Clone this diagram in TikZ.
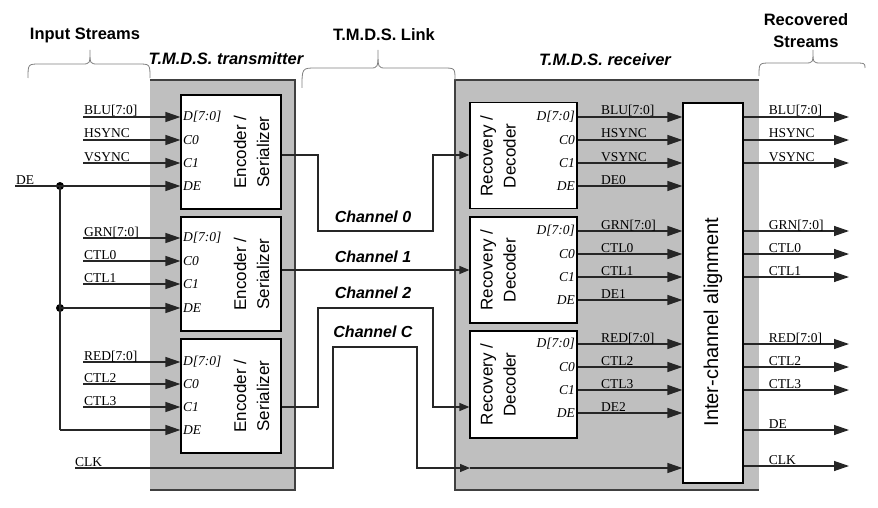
\documentclass[tikz,border=0pt]{standalone}
\usepackage{fontspec}
\setmainfont{Liberation Serif}
\setsansfont{Liberation Sans}
\usetikzlibrary{arrows.meta,calc}
\begin{document}
\begin{tikzpicture}[x=1pt,y=-1pt,
  wire/.style={line width=1.3pt, black!85},
  sig/.style={wire,-{Triangle[length=15pt,width=10pt]}},
  chan/.style={wire,-{Triangle[length=10pt,width=8pt]}},
  blk/.style={draw, line width=1.2pt, fill=white, inner sep=0},
  sgl/.style={font=\fontsize{13.5}{14}\selectfont, inner sep=0, anchor=base west},
  port/.style={font=\itshape\fontsize{13.5}{14}\selectfont, inner sep=0},
  blkt/.style={font=\sffamily\fontsize{17}{23}\selectfont, rotate=90, align=center, inner sep=0},
  ttl/.style={font=\sffamily\bfseries\fontsize{16.5}{22}\selectfont, inner sep=0, align=center},
  chl/.style={font=\sffamily\bfseries\itshape\fontsize{16}{18}\selectfont, inner sep=0},
  brc/.style={line width=0.8pt, black!50},
  shade/.style={fill=black!25, inner sep=0, draw=none},
  rim/.style={line width=1.8pt, black!75},
  jdot/.style={circle, fill=black, inner sep=0, minimum size=8pt}
]
\useasboundingbox (0,0) rectangle (878,508);

% gray housings
\node[shade, minimum width=145pt, minimum height=410pt] (tx) at (222.5,285) {};
\node[shade, minimum width=304pt, minimum height=410pt] (rx) at (607,285) {};
\draw[rim] (tx.north west) -- (tx.north east) -- (tx.south east) -- (tx.south west);
\draw[rim] (rx.north east) -- (rx.north west) -- (rx.south west) -- (rx.south east);

% blocks
\node[blk, minimum width=100pt, minimum height=114pt] (enc1) at (231,152) {};
\node[blk, minimum width=100pt, minimum height=114pt] (enc2) at (231,274) {};
\node[blk, minimum width=100pt, minimum height=114pt] (enc3) at (231,396) {};
\node[blk, minimum width=107pt, minimum height=106pt] (dec1) at (523.5,155.5) {};
\node[blk, minimum width=107pt, minimum height=106pt] (dec2) at (523.5,270) {};
\node[blk, minimum width=107pt, minimum height=107pt] (dec3) at (523.5,384.5) {};
\node[blk, minimum width=60pt, minimum height=380pt] (align) at (713,293) {};

\node[blkt] (e1t) at (251.5,152) {Encoder /\\Serializer};
\node[blkt] (e2t) at (251.5,274) {Encoder /\\Serializer};
\node[blkt] (e3t) at (251.5,396) {Encoder /\\Serializer};
\node[blkt] (d1t) at (498,156) {Recovery /\\Decoder};
\node[blkt] (d2t) at (498,270) {Recovery /\\Decoder};
\node[blkt] (d3t) at (498,384.5) {Recovery /\\Decoder};
\node[blkt, font=\sffamily\fontsize{20}{24}\selectfont] (alt) at (713,322) {Inter-channel alignment};

% titles
\node[ttl] (t1) at (85,35) {Input Streams};
\node[ttl, font=\sffamily\bfseries\itshape\fontsize{16.5}{20}\selectfont] (t2) at (226,59) {T.M.D.S. transmitter};
\node[ttl] (t3) at (384,35) {T.M.D.S. Link};
\node[ttl, font=\sffamily\bfseries\itshape\fontsize{16.5}{20}\selectfont] (t4) at (605,60) {T.M.D.S. receiver};
\node[ttl] (t5) at (806,31) {Recovered\\Streams};

% braces
\draw[brc] (28,78) .. controls (28,64) .. (40,64) -- (82,64) .. controls (90,64) .. (90,50)
  .. controls (90,64) .. (98,64) -- (138,64) .. controls (150,64) .. (150,78);
\draw[brc] (302,88) .. controls (302,68) .. (316,68) -- (370,68) .. controls (378,68) .. (378,50)
  .. controls (378,68) .. (386,68) -- (443,68) .. controls (455,68) .. (455,80);
\draw[brc] (759,76) .. controls (759,63) .. (771,63) -- (805,63) .. controls (813,63) .. (813,50)
  .. controls (813,63) .. (821,63) -- (853,63) .. controls (865,63) .. (865,68);

% transmitter inputs
\foreach \y/\s/\e in {117/{BLU[7:0]}/enc1, 140/HSYNC/enc1, 163/VSYNC/enc1,
                      238/{GRN[7:0]}/enc2, 261/CTL0/enc2, 284/CTL1/enc2,
                      362/{RED[7:0]}/enc3, 384/CTL2/enc3, 407/CTL3/enc3} {
  \coordinate (s) at (83,\y);
  \draw[sig] (s) -- (s -| \e.west);
  \node[sgl] at ($(s)+(1,-2)$) {\s};
}
% encoder port labels
\foreach \a/\b/\c/\d in {117/140/163/186, 238/261/284/308, 362/384/407/430} {
  \node[port, anchor=west] at (183,\a) {D[7:0]};
  \node[port, anchor=west] at (183,\b) {C0};
  \node[port, anchor=west] at (183,\c) {C1};
  \node[port, anchor=west] at (183,\d) {DE};
}

% DE distribution
\coordinate (dein) at (15,186);
\node[jdot] (j1) at (60,186) {};
\node[jdot] (j2) at (60,308) {};
\coordinate (jc) at (60,430);
\draw[sig] (dein) -- (dein -| enc1.west);
\draw[wire] (j1.center) -- (jc);
\draw[sig] (j2.center) -- (j2 -| enc2.west);
\draw[sig] (jc) -- (jc -| enc3.west);
\node[sgl] at ($(dein)+(1,-2)$) {DE};

% links
\draw[chan] (enc1.east |- 0,155) -| (318,231) -| (433,155) -- (dec1.west |- 0,155);
\draw[chan] (enc2.east |- 0,270) -- (dec2.west |- 0,270);
\draw[chan] (enc3.east |- 0,407) -| (318,308) -| (433,407) -- (dec3.west |- 0,407);
\coordinate (clk) at (75,468);
\coordinate (clkm) at (470,468);
\draw[chan] (clk) -| (333,347) -| (417,468) -- (clkm);
\draw[sig] (clkm) -- (clkm -| align.west);
\node[sgl] at ($(clk)+(0,-2)$) {CLK};

\node[chl] (c0) at (373,217) {Channel 0};
\node[chl] (c1) at (373,257) {Channel 1};
\node[chl] (c2) at (373,293) {Channel 2};
\node[chl] (cc) at (373,332) {Channel C};

% decoder outputs
\foreach \y/\s/\e in {117/{BLU[7:0]}/dec1, 140/HSYNC/dec1, 163/VSYNC/dec1, 186/DE0/dec1,
                      231/{GRN[7:0]}/dec2, 254/CTL0/dec2, 277/CTL1/dec2, 300/DE1/dec2,
                      344/{RED[7:0]}/dec3, 367/CTL2/dec3, 390/CTL3/dec3, 413/DE2/dec3} {
  \coordinate (r) at (601,\y);
  \draw[sig] (r -| \e.east) -- (r -| align.west);
  \node[sgl] at ($(r)+(0,-2)$) {\s};
}
\foreach \a/\b/\c/\d in {117/140/163/186, 231/254/277/300, 344/367/390/413} {
  \node[port, anchor=east] at (575,\a) {D[7:0]};
  \node[port, anchor=east] at (575,\b) {C0};
  \node[port, anchor=east] at (575,\c) {C1};
  \node[port, anchor=east] at (575,\d) {DE};
}

% recovered outputs
\foreach \y/\s in {117/{BLU[7:0]}, 140/HSYNC, 163/VSYNC, 231/{GRN[7:0]}, 254/CTL0, 277/CTL1,
                   344/{RED[7:0]}, 367/CTL2, 390/CTL3, 430/DE, 466/CLK} {
  \coordinate (o) at (849,\y);
  \draw[sig] (o -| align.east) -- (o);
  \node[sgl] at ($(o -| align.east)+(25,-2)$) {\s};
}
\end{tikzpicture}
\end{document}
